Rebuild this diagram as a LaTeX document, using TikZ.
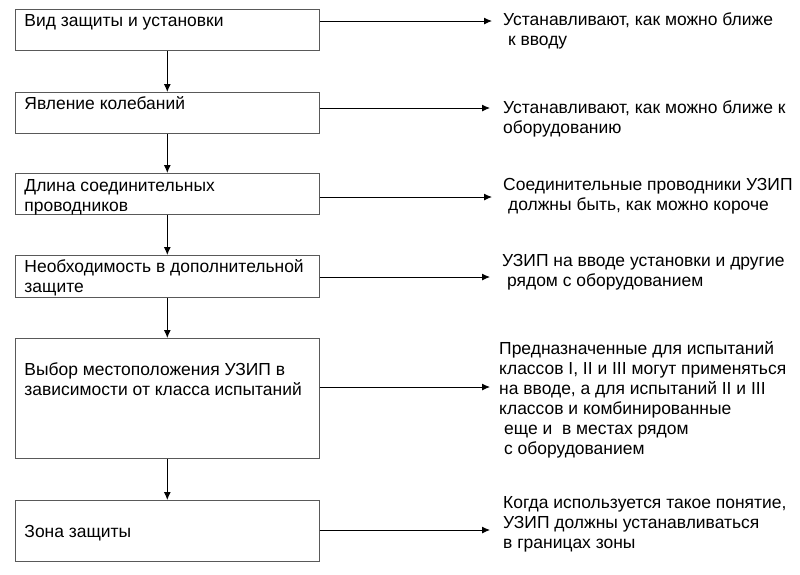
\documentclass[tikz,border=0pt]{standalone}
\usepackage{fontspec}
\setmainfont{Liberation Sans}
\usetikzlibrary{arrows.meta}
\tikzset{
  blok/.style={draw=black!65, line width=.8pt, anchor=north west, text width=8.57cm,
    align=flush left, inner xsep=.27cm, inner ysep=0pt},
  tekst/.style={anchor=base west, inner sep=0pt, text width=9cm, align=flush left},
  strelka/.style={-{Latex[length=2.4mm,width=2.1mm]}, line width=.8pt}
}
\begin{document}
\begin{tikzpicture}[x=0.03cm, y=-0.03cm, font=\fontsize{14.9}{17.1}\selectfont]
  \useasboundingbox (0,0) rectangle (800,574);
  % блоки слева, сверху вниз
  \node[blok, text height=.51cm, text depth=.72cm] (b1) at (15,9) {Вид защиты и установки};
  \node[blok, text height=.51cm, text depth=.72cm] (b2) at (15,92) {Явление колебаний};
  \node[blok, text height=.54cm, text depth=.69cm] (b3) at (15,173) {Длина соединительных\\проводников};
  \node[blok, text height=.51cm, text depth=.75cm] (b4) at (15,255) {Необходимость в дополнительной\\защите};
  \node[blok, text height=1.11cm, text depth=2.49cm] (b5) at (15,338) {Выбор местоположения УЗИП в\\зависимости от класса испытаний};
  \node[blok, text height=1.11cm, text depth=.72cm] (b6) at (15,500) {Зона защиты};
  % пояснения справа
  \node[tekst] (t1) at (503,25) {Устанавливают, как можно ближе\\\hspace*{.28em}к вводу};
  \node[tekst] (t2) at (503,113) {Устанавливают, как можно ближе к\\оборудованию};
  \node[tekst] (t3) at (503,190) {Соединительные проводники УЗИП\\\hspace*{.28em}должны быть, как можно короче};
  \node[tekst] (t4) at (502,266) {УЗИП на вводе установки и другие\\\hspace*{.28em}рядом с оборудованием};
  \node[tekst] (t5) at (499,354) {Предназначенные для испытаний\\классов I, II и III могут применяться\\на вводе, а для испытаний II и III\\классов и комбинированные\\\hspace*{.28em}еще и\ \ в местах рядом\\\hspace*{.28em}с оборудованием};
  \node[tekst] (t6) at (503,508) {Когда используется такое понятие,\\УЗИП должны устанавливаться\\в границах зоны};
  % концы горизонтальных стрелок
  \coordinate (k1) at (492,21);
  \coordinate (k2) at (490,108);
  \coordinate (k3) at (492,197);
  \coordinate (k4) at (490,277);
  \coordinate (k5) at (490,387);
  \coordinate (k6) at (490,530);
  % стрелки вниз
  \foreach \a/\b in {b1/b2, b2/b3, b3/b4, b4/b5, b5/b6}
    \draw[strelka] (\a.south) -- (\b.north);
  % стрелки вправо
  \foreach \i in {1,...,6}
    \draw[strelka] (b\i.east |- k\i) -- (k\i);
\end{tikzpicture}
\end{document}
